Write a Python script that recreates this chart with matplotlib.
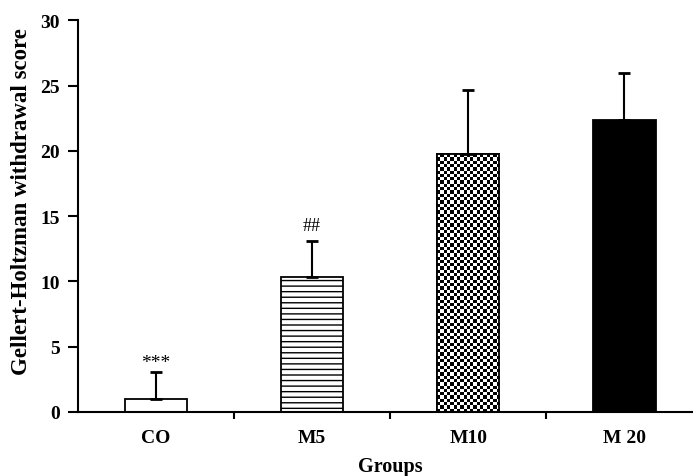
import numpy as np
import matplotlib
matplotlib.use("Agg")
import matplotlib.pyplot as plt

groups = ["CO", "M5", "M10", "M 20"]
means = [1.0, 10.37, 19.73, 22.4]
errors = [2.05, 2.7, 4.97, 3.6]
annotations = ["***", "##", "", ""]
annot_y = [3.8, 14.3, None, None]

plt.rcParams['font.family'] = ['Liberation Serif', 'DejaVu Serif']
plt.rcParams['font.weight'] = 'bold'
plt.rcParams['hatch.linewidth'] = 1.0

fig = plt.figure(figsize=(6.93, 4.77), dpi=100)
ax = fig.add_axes([78/693, 64/477, 1 - 78/693, (413.3-21.7)/477])

x = np.arange(len(groups))
width = 0.4
faces = ["white", "white", "white", "black"]
hatches = [None, "---", None, None]
bars = ax.bar(x, means, width=width, color=faces, edgecolor="black",
              linewidth=1.3, zorder=2)
for b, h in zip(bars, hatches):
    if h:
        b.set_hatch(h)

ax.errorbar(x, means, yerr=[np.zeros(len(errors)), errors], fmt="none",
            ecolor="black", elinewidth=1.5, capsize=4, capthick=2, zorder=3)

ax.set_xlim(-0.5, 3.44)
ax.set_ylim(0, 30)

# checkerboard fill for M10
fig.canvas.draw()
bb = ax.get_window_extent()
px_per_x = bb.width / (ax.get_xlim()[1] - ax.get_xlim()[0])
px_per_y = bb.height / (ax.get_ylim()[1] - ax.get_ylim()[0])
b = bars[2]
cell = 3.3
nx = max(1, int(round(width * px_per_x / cell)))
ny = max(1, int(round(means[2] * px_per_y / cell)))
ii, jj = np.meshgrid(np.arange(nx), np.arange(ny))
checker = ((ii + jj) % 2).astype(float)
im = ax.imshow(checker, cmap="gray", vmin=0, vmax=1, interpolation="nearest",
               extent=[x[2] - width/2, x[2] + width/2, 0, means[2]],
               origin="lower", aspect="auto", zorder=2.5)
im.set_clip_path(b)
ax.bar([x[2]], [means[2]], width=width, color="none", edgecolor="black",
       linewidth=1.3, zorder=2.6)
ax.set_xlim(-0.5, 3.44)
ax.set_ylim(0, 30)

annot_size = [14, 13]
for xi, t, yy, fs in zip(x, annotations, annot_y, annot_size):
    if t:
        ax.text(xi, yy, t, ha="center", va="center", fontsize=fs, fontweight="normal")

ax.spines["top"].set_visible(False)
ax.spines["right"].set_visible(False)
ax.spines["left"].set_linewidth(1.5)
ax.spines["bottom"].set_linewidth(1.5)

ax.set_yticks(np.arange(0, 31, 5))
ax.tick_params(axis="y", direction="out", length=7, width=1.5, labelsize=14, pad=6)
ax.set_xticks(x)
ax.set_xticklabels(groups)
ax.tick_params(axis="x", which="major", length=0, labelsize=14, pad=12)
ax.set_xticks([0.5, 1.5, 2.5], minor=True)
ax.tick_params(axis="x", which="minor", direction="out", length=5, width=1.5)

ax.set_xlabel("Groups", fontsize=14.5, fontweight="bold")
ax.xaxis.label.set_va("center")
ax.xaxis.set_label_coords((390 - 78) / (693 - 78), -(467 - 413.3) / (413.3 - 21.7))
ax.set_ylabel("Gellert-Holtzman withdrawal score", fontsize=16.5, fontweight="bold")
ax.yaxis.label.set_va("center")
ax.yaxis.set_label_coords(-(78 - 22) / (693 - 78), 0.5 - (201.5 - (413.3 + 21.7) / 2) / (413.3 - 21.7))

fig.savefig("out.png", dpi=100)
